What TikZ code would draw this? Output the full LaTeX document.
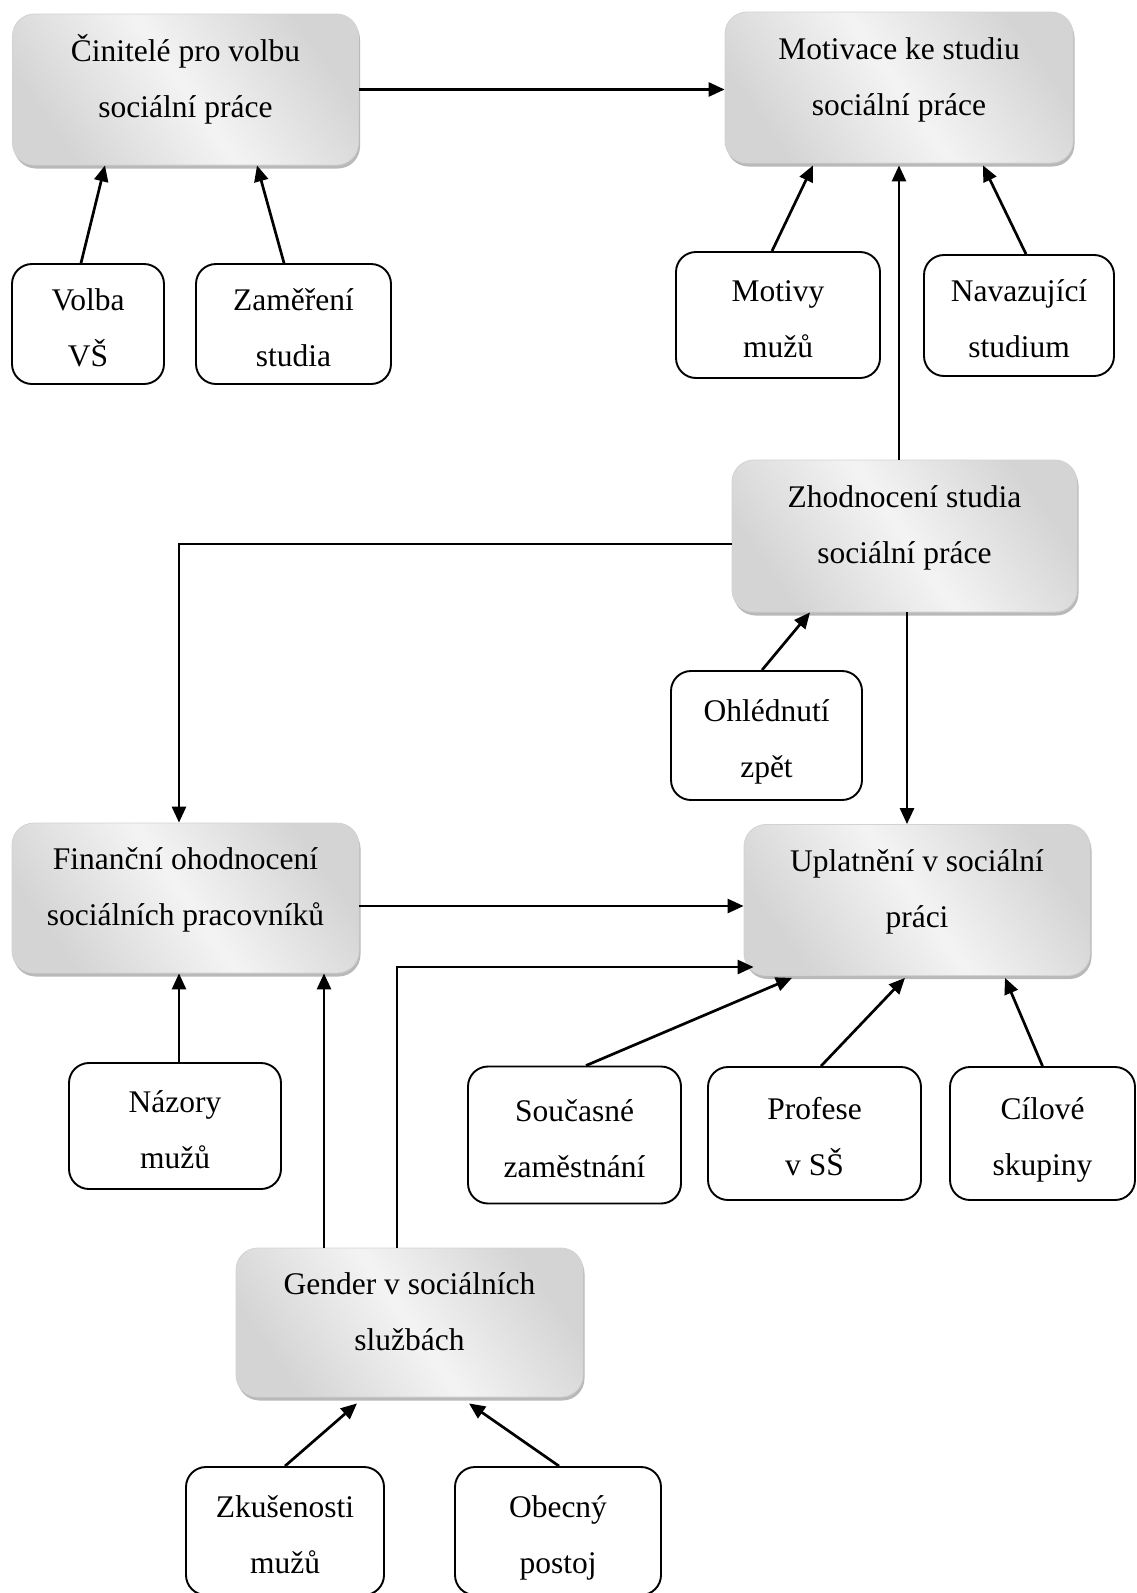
\documentclass[tikz,border=0pt]{standalone}
\usepackage{fontspec}
\setmainfont{Liberation Serif}
\usetikzlibrary{arrows.meta,shadows,calc}
\newcommand\mainsz{\fontsize{31.5}{56}\selectfont}
\newcommand\gtxt[2]{\strut #1\\\strut #2\rule[-40pt]{0pt}{1pt}}
\newcommand\wtxt[2]{\rule{0pt}{45pt}\strut #1\\\strut #2}
\tikzset{
  gbox/.style={rounded corners=22pt, draw=gray!35, line width=0.8pt,
    top color=gray!34, bottom color=gray!34, middle color=gray!9, shading angle=-55,
    drop shadow={shadow xshift=1.5pt, shadow yshift=-3.5pt, fill=gray!55, opacity=1},
    align=center, inner sep=0pt, font=\mainsz},
  wbox/.style={rounded corners=20pt, draw=black, line width=1.9pt, fill=white,
    align=center, inner sep=0pt, font=\mainsz},
  arr/.style={line width=2.7pt, -{Triangle[length=16pt,width=14pt]}},
}
\begin{document}
\begin{tikzpicture}[x=1pt,y=-1pt]
\useasboundingbox (0,0) rectangle (1136,1593);
% shaded boxes
\node[gbox, minimum width=346, minimum height=151] (cin) at (185.5,89.5) {\gtxt{Činitelé pro volbu}{sociální práce}};
\node[gbox, minimum width=348, minimum height=151] (mot) at (899,87.5) {\gtxt{Motivace ke studiu}{sociální práce}};
\node[gbox, minimum width=345, minimum height=152] (zhod) at (904.5,536) {\gtxt{Zhodnocení studia}{sociální práce}};
\node[gbox, minimum width=347, minimum height=150] (fin) at (185.5,898) {\gtxt{Finanční ohodnocení}{sociálních pracovníků}};
\node[gbox, minimum width=346, minimum height=151] (upl) at (917,900) {\gtxt{Uplatnění v sociální}{práci}};
\node[gbox, minimum width=347, minimum height=149] (gender) at (409.5,1322.5) {\gtxt{Gender v sociálních}{službách}};
% white boxes
\node[wbox, minimum width=152, minimum height=120] (volba) at (88,324) {\wtxt{Volba}{VŠ}};
\node[wbox, minimum width=195, minimum height=120] (zam) at (293.5,324) {\wtxt{Zaměření}{studia}};
\node[wbox, minimum width=204, minimum height=126] (motivy) at (778,315) {\wtxt{Motivy}{mužů}};
\node[wbox, minimum width=190, minimum height=121] (nav) at (1019,315.5) {\wtxt{Navazující}{studium}};
\node[wbox, minimum width=191, minimum height=129] (ohl) at (766.5,735.5) {\wtxt{Ohlédnutí}{zpět}};
\node[wbox, minimum width=212, minimum height=126] (naz) at (175,1126) {\wtxt{Názory}{mužů}};
\node[wbox, minimum width=213, minimum height=137] (soc) at (574.5,1135) {\wtxt{Současné}{zaměstnání}};
\node[wbox, minimum width=213, minimum height=133] (prof) at (814.5,1133.5) {\wtxt{Profese}{v SŠ}};
\node[wbox, minimum width=185, minimum height=133] (cil) at (1042.5,1133.5) {\wtxt{Cílové}{skupiny}};
\node[wbox, minimum width=198, minimum height=128] (zk) at (285,1531) {\wtxt{Zkušenosti}{mužů}};
\node[wbox, minimum width=206, minimum height=128] (obec) at (558,1531) {\wtxt{Obecný}{postoj}};
% connectors
\draw[arr] ([xshift=-7pt]volba.north) -- ([xshift=-80.5pt]cin.south);
\draw[arr] ([xshift=-9.5pt]zam.north) -- ([xshift=71.5pt]cin.south);
\draw[arr] (cin.east) -- (cin.east -| mot.west);
\draw[arr] ([xshift=-6pt]motivy.north) -- ([xshift=-86pt,yshift=-2pt]mot.south);
\draw[arr] ([xshift=7pt]nav.north) -- ([xshift=84pt,yshift=-2pt]mot.south);
\draw[arr] (zhod.north -| mot.south) -- ([yshift=-2pt]mot.south);
\draw[arr] ([yshift=-8pt]zhod.west) -| ([xshift=-6.5pt]fin.north);
\draw[arr] ([xshift=-10pt]upl.north |- zhod.south) -- ([xshift=-10pt]upl.north);
\draw[arr] ([xshift=-4.5pt]ohl.north) -- ([xshift=-94.5pt]zhod.south);
\draw[arr] ([yshift=-8pt]fin.east) -- ([yshift=-8pt]fin.east -| upl.west);
\draw[arr] ([xshift=4pt]naz.north) -- ([xshift=-6.5pt]fin.south);
\draw[arr] ([xshift=-85.5pt]gender.north) -- ([xshift=-85.5pt]gender.north |- fin.south);
\draw[arr] ([xshift=-12.5pt]gender.north) |- ([xshift=10pt,yshift=-67pt]upl.west);
\draw[arr] ([xshift=11.5pt]soc.north) -- ([xshift=-125pt,yshift=-2pt]upl.south);
\draw[arr] ([xshift=6.5pt]prof.north) -- ([xshift=-12pt,yshift=-2pt]upl.south);
\draw[arr] (cil.north) -- ([xshift=88pt,yshift=-2pt]upl.south);
\draw[arr] (zk.north) -- ([xshift=-52.5pt,yshift=-6pt]gender.south);
\draw[arr] ([xshift=1pt]obec.north) -- ([xshift=59.5pt,yshift=-6pt]gender.south);
\end{tikzpicture}
\end{document}
